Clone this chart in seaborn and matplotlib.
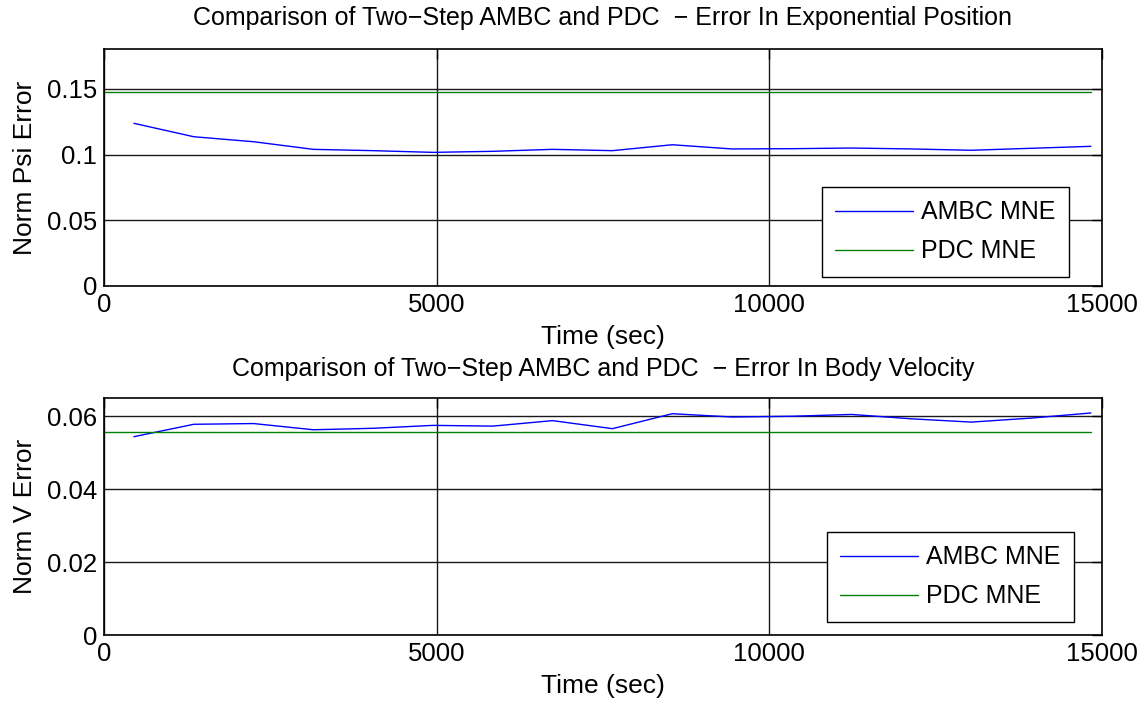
import matplotlib
matplotlib.use("Agg")
import matplotlib.pyplot as plt
import seaborn as sns
import pandas as pd

# ---- data ----
time_sec = [450, 1349, 2248, 3147, 4046, 4945, 5844, 6743, 7642, 8541,
            9440, 10339, 11238, 12137, 13036, 13935, 14834]
ambc_psi = [0.1238, 0.1136, 0.1098, 0.1040, 0.1030, 0.1017, 0.1025, 0.1040,
            0.1030, 0.1075, 0.1043, 0.1045, 0.1050, 0.1043, 0.1033, 0.1048, 0.1063]
ambc_v = [0.0544, 0.0578, 0.0580, 0.0563, 0.0567, 0.0575, 0.0573, 0.0588,
          0.0566, 0.0607, 0.0598, 0.0600, 0.0605, 0.0593, 0.0584, 0.0595, 0.0609]
pdc_time = [0, 14834]
pdc_psi = [0.1476, 0.1476]
pdc_v = [0.0556, 0.0556]

x_ticks = [0, 5000, 10000, 15000]
x_ticklabels = ["0", "5000", "10000", "15000"]
psi_ticks = [0, 0.05, 0.1, 0.15]
psi_ticklabels = ["0", "0.05", "0.1", "0.15"]
v_ticks = [0, 0.02, 0.04, 0.06]
v_ticklabels = ["0", "0.02", "0.04", "0.06"]

title_top = "Comparison of Two\u2212Step AMBC and PDC  \u2212 Error In Exponential Position"
title_bot = "Comparison of Two\u2212Step AMBC and PDC  \u2212 Error In Body Velocity"

sns.set_style("white")
plt.rcParams["font.family"] = ["Liberation Sans", "DejaVu Sans"]
plt.rcParams["text.color"] = "black"
plt.rcParams["axes.labelcolor"] = "black"

fig = plt.figure(figsize=(11.47, 7.02), dpi=100)
ax1 = fig.add_axes([0.0907, 0.5926, 0.870, 0.3369])
ax2 = fig.add_axes([0.0907, 0.0954, 0.870, 0.3376])

blue = "#0000ff"
green = "#008000"

def draw(ax, y_ambc, y_pdc, ylim, yticks, yticklabels, ylabel, title, tpad, leg_anchor):
    df_a = pd.DataFrame({"t": time_sec, "v": y_ambc})
    df_p = pd.DataFrame({"t": pdc_time, "v": y_pdc})
    sns.lineplot(data=df_a, x="t", y="v", ax=ax, color=blue, lw=1.0, label="AMBC MNE")
    sns.lineplot(data=df_p, x="t", y="v", ax=ax, color=green, lw=1.0, label="PDC MNE")
    ax.set_xlim(0, 15000)
    ax.set_ylim(*ylim)
    ax.set_xticks(x_ticks)
    ax.set_xticklabels(x_ticklabels)
    ax.set_yticks(yticks)
    ax.set_yticklabels(yticklabels)
    ax.tick_params(direction="in", length=7, width=1, labelsize=18.5, colors="black",
                   top=True, right=True, pad=5)
    ax.grid(True, color="#1a1a1a", lw=1.0, ls="-")
    ax.set_axisbelow(True)
    for s in ax.spines.values():
        s.set_visible(True)
        s.set_color("black")
        s.set_linewidth(1.2)
    ax.set_xlabel("Time (sec)", fontsize=19, labelpad=6, color="black")
    ax.set_ylabel(ylabel, fontsize=19, labelpad=7, color="black")
    ax.set_title(title, fontsize=18, pad=tpad, color="black")
    leg = ax.legend(loc="lower right", bbox_to_anchor=leg_anchor, fontsize=18,
                    frameon=True, fancybox=False, framealpha=1, edgecolor="black",
                    handlelength=3.1, borderpad=0.55, labelspacing=0.6,
                    handletextpad=0.32, borderaxespad=0)
    leg.get_frame().set_linewidth(1.0)
    for t in leg.get_texts():
        t.set_color("black")

draw(ax1, ambc_psi, pdc_psi, (0, 0.18), psi_ticks, psi_ticklabels,
     "Norm Psi Error", title_top, 17.5, (0.967, 0.038))
draw(ax2, ambc_v, pdc_v, (0, 0.065), v_ticks, v_ticklabels,
     "Norm V Error", title_bot, 16, (0.972, 0.054))

fig.savefig("out.png", dpi=100, facecolor="white")
